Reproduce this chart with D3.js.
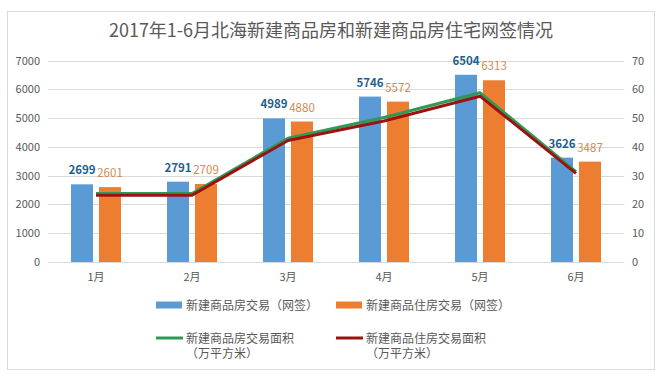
<!DOCTYPE html>
<html>
<head>
<meta charset="utf-8">
<script src="https://cdn.jsdelivr.net/npm/d3@7"></script>
<style>
  body { margin: 0; background: #fff; }
  svg { display: block; font-family: "Microsoft YaHei", "Noto Sans CJK SC", sans-serif; }
</style>
</head>
<body>
<svg id="chart" width="661" height="381"></svg>
<script>
var months = ["1月", "2月", "3月", "4月", "5月", "6月"];
var salesAll = [2699, 2791, 4989, 5746, 6504, 3626];      // 新建商品房交易（网签）
var salesHome = [2601, 2709, 4880, 5572, 6313, 3487];     // 新建商品住房交易（网签）
var areaAll = [23.8, 23.8, 43.0, 50.2, 58.8, 31.4];       // 新建商品房交易面积
var areaHome = [23.2, 23.2, 42.2, 49.0, 57.6, 30.8];      // 新建商品住房交易面积
var leftTicks = [0, 1000, 2000, 3000, 4000, 5000, 6000, 7000];
var rightTicks = [0, 10, 20, 30, 40, 50, 60, 70];

var svg = d3.select("#chart");
var textColor = "#595959";

// outer frame
svg.append("rect").attr("x", 7.5).attr("y", 11.5).attr("width", 647).attr("height", 358)
    .attr("fill", "#fff").attr("stroke", "#d9d9d9");

svg.append("text").attr("x", 331).attr("y", 37).attr("text-anchor", "middle")
    .attr("font-size", 18).attr("fill", textColor)
    .text("2017年1-6月北海新建商品房和新建商品房住宅网签情况");

var plotL = 48, plotR = 624, plotT = 60.5, plotB = 262;

var x = d3.scaleBand().domain(months).range([plotL, plotR]);
var yL = d3.scaleLinear().domain([0, 7000]).range([plotB, plotT]);
var yR = d3.scaleLinear().domain([0, 70]).range([plotB, plotT]);

// grid
svg.append("g").selectAll("line").data(leftTicks).enter().append("line")
    .attr("x1", plotL).attr("x2", plotR)
    .attr("y1", function(d){ return Math.round(yL(d)) + 0.5; })
    .attr("y2", function(d){ return Math.round(yL(d)) + 0.5; })
    .attr("stroke", "#d9d9d9");

var axL = svg.append("g").attr("transform", "translate(" + (plotL - 6) + ",0)")
    .call(d3.axisLeft(yL).tickValues(leftTicks).tickSize(0).tickPadding(2).tickFormat(d3.format("d")));
var axR = svg.append("g").attr("transform", "translate(" + (plotR + 6) + ",0)")
    .call(d3.axisRight(yR).tickValues(rightTicks).tickSize(0).tickPadding(2));
var axB = svg.append("g").attr("transform", "translate(0," + (plotB + 9) + ")")
    .call(d3.axisBottom(x).tickSize(0).tickPadding(2));
[axL, axR, axB].forEach(function(a){
    a.select(".domain").remove();
    a.selectAll("text").attr("fill", textColor).attr("font-size", 11)
        .attr("font-family", "\"Noto Sans CJK SC\", sans-serif");
});

var barW = 22, off = 14;
var bars = [
    {data: salesAll, color: "#5b9bd5", label: "#1f5f8f", weight: 600, dx: -off},
    {data: salesHome, color: "#ed7d31", label: "#d08c50", weight: "normal", dx: off}
];
bars.forEach(function(b){
    var g = svg.append("g");
    g.selectAll("rect").data(b.data).enter().append("rect")
        .attr("x", function(d, i){ return x(months[i]) + x.bandwidth()/2 + b.dx - barW/2; })
        .attr("y", function(d){ return yL(d); })
        .attr("width", barW)
        .attr("height", function(d){ return plotB - yL(d); })
        .attr("fill", b.color);
    g.selectAll("text").data(b.data).enter().append("text")
        .attr("x", function(d, i){ return x(months[i]) + x.bandwidth()/2 + b.dx; })
        .attr("y", function(d){ return yL(d) - 10; })
        .attr("text-anchor", "middle")
        .attr("font-size", 11.5)
        .attr("font-weight", b.weight)
        .attr("fill", b.label)
        .text(function(d){ return d; });
});

var line = d3.line()
    .x(function(d, i){ return x(months[i]) + x.bandwidth()/2; })
    .y(function(d){ return yR(d); });
svg.append("path").attr("d", line(areaAll)).attr("fill", "none")
    .attr("stroke", "#2f9a55").attr("stroke-width", 3).attr("stroke-linejoin", "round");
svg.append("path").attr("d", line(areaHome)).attr("fill", "none")
    .attr("stroke", "#9c1212").attr("stroke-width", 3).attr("stroke-linejoin", "round");

// legend
var legend = [
    {x: 156, y: 305, type: "rect", color: "#5b9bd5", lines: ["新建商品房交易（网签）"]},
    {x: 336, y: 305, type: "rect", color: "#ed7d31", lines: ["新建商品住房交易（网签）"]},
    {x: 156, y: 338, type: "line", color: "#2f9a55", lines: ["新建商品房交易面积", "（万平方米）"]},
    {x: 336, y: 338, type: "line", color: "#9c1212", lines: ["新建商品住房交易面积", "（万平方米）"]}
];
legend.forEach(function(l){
    var g = svg.append("g").attr("transform", "translate(" + l.x + "," + l.y + ")");
    if (l.type === "rect") {
        g.append("rect").attr("x", 0).attr("y", -3.5).attr("width", 26).attr("height", 7).attr("fill", l.color);
    } else {
        g.append("line").attr("x1", 0).attr("x2", 27).attr("y1", 0).attr("y2", 0)
            .attr("stroke", l.color).attr("stroke-width", 3);
    }
    l.lines.forEach(function(t, i){
        g.append("text").attr("x", 30).attr("y", 4.5 + i * 15.5)
            .attr("font-size", 12).attr("fill", textColor)
            .attr("font-family", "\"Noto Sans CJK SC\", sans-serif")
            .text(t);
    });
});
</script>
</body>
</html>
